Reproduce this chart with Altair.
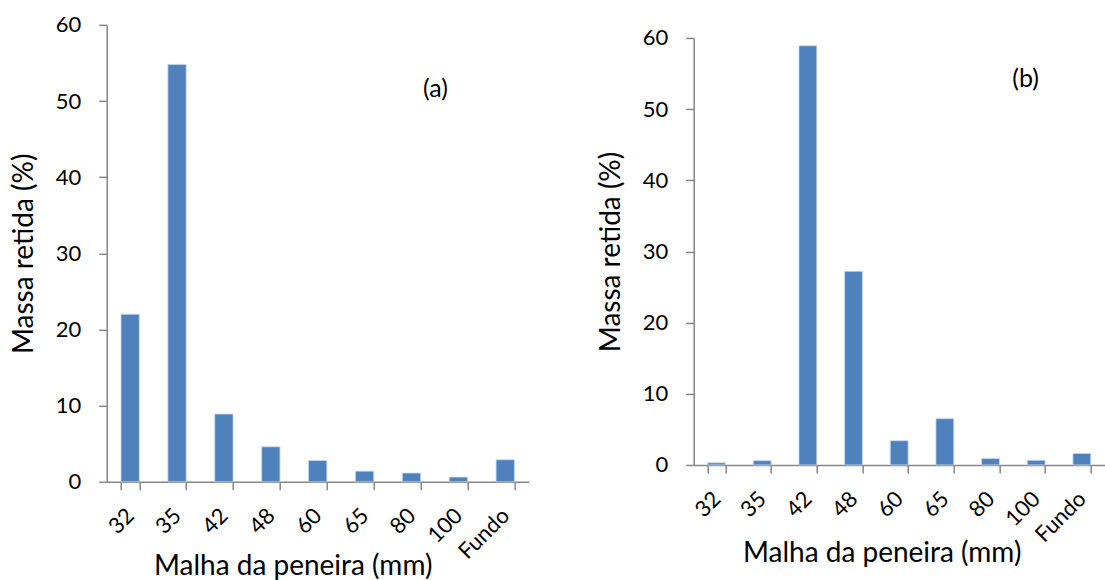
import altair as alt
import pandas as pd

categories = ["32", "35", "42", "48", "60", "65", "80", "100", "Fundo"]
values_a = [22.0, 54.8, 8.9, 4.6, 2.8, 1.4, 1.15, 0.62, 2.9]
values_b = [0.3, 0.6, 58.9, 27.2, 3.4, 6.5, 0.9, 0.65, 1.6]

FONT = "Lato"
BAR = "#4F81BD"
AXIS_GRAY = "#868686"

df_a = pd.DataFrame({"malha": categories, "massa": values_a})
df_b = pd.DataFrame({"malha": categories, "massa": values_b})


def panel(df, label, w, h, label_cat, label_dx, label_y, ytitle_x, xtitle_x, xtitle_y):
    x = alt.X(
        "malha:N",
        sort=categories,
        scale=alt.Scale(paddingInner=0.61, paddingOuter=0.305),
        axis=alt.Axis(
            title="Malha da peneira (mm)",
            grid=False,
            labelAngle=-45,
            labelAlign="right",
            labelBaseline="middle",
            labelPadding=22,
            tickBand="extent",
            tickSize=8,
            domainColor=AXIS_GRAY,
            tickColor=AXIS_GRAY,
            domainWidth=1.5,
            tickWidth=1.5,
            labelFontSize=22,
            titleFontSize=28,
            labelFont=FONT,
            titleFont=FONT,
            labelColor="black",
            titleColor="black",
            titleFontWeight="normal",
            titleX=xtitle_x,
            titleY=xtitle_y,
            titleBaseline="alphabetic",
            titleAlign="center",
        ),
    )
    y = alt.Y(
        "massa:Q",
        scale=alt.Scale(domain=[0, 60], nice=False),
        axis=alt.Axis(
            title="Massa retida (%)",
            values=[0, 10, 20, 30, 40, 50, 60],
            grid=False,
            tickSize=8,
            labelPadding=18,
            domainColor=AXIS_GRAY,
            tickColor=AXIS_GRAY,
            domainWidth=1.5,
            tickWidth=1.5,
            labelFontSize=22,
            titleFontSize=28,
            labelFont=FONT,
            titleFont=FONT,
            labelColor="black",
            titleColor="black",
            titleFontWeight="normal",
            titleX=ytitle_x,
            titleBaseline="middle",
        ),
    )
    bars = alt.Chart(df).mark_bar(color=BAR, stroke="#c6d6ea", strokeWidth=0.8).encode(x=x, y=y)
    lab = alt.Chart(pd.DataFrame({"malha": [label_cat], "massa": [label_y], "t": [label]})).mark_text(
        font=FONT, fontSize=25, dx=label_dx, color="black"
    ).encode(
        x=alt.X("malha:N", sort=categories),
        y=alt.Y("massa:Q"),
        text="t:N",
    )
    return alt.layer(bars, lab).properties(
        width=w, height=h, view=alt.ViewBackground(strokeWidth=0, strokeOpacity=0)
    )


left = panel(df_a, "(a)", 422, 457, "80", 24, 51.6, -82, 186, 92.7)
right = panel(df_b, "(b)", 411, 427, "80", 35, 54.3, -82, 188, 96.5)

chart = (
    alt.hconcat(left, right, spacing=69, center=True)
    .properties(padding={"left": 10.7, "top": 13.7, "right": 0, "bottom": 0})
    .configure_view(strokeWidth=0, strokeOpacity=0)
    .configure_axis(grid=False)
    .configure(background="white")
)

chart.save("out.html", embed_options={"renderer": "svg", "actions": False})
